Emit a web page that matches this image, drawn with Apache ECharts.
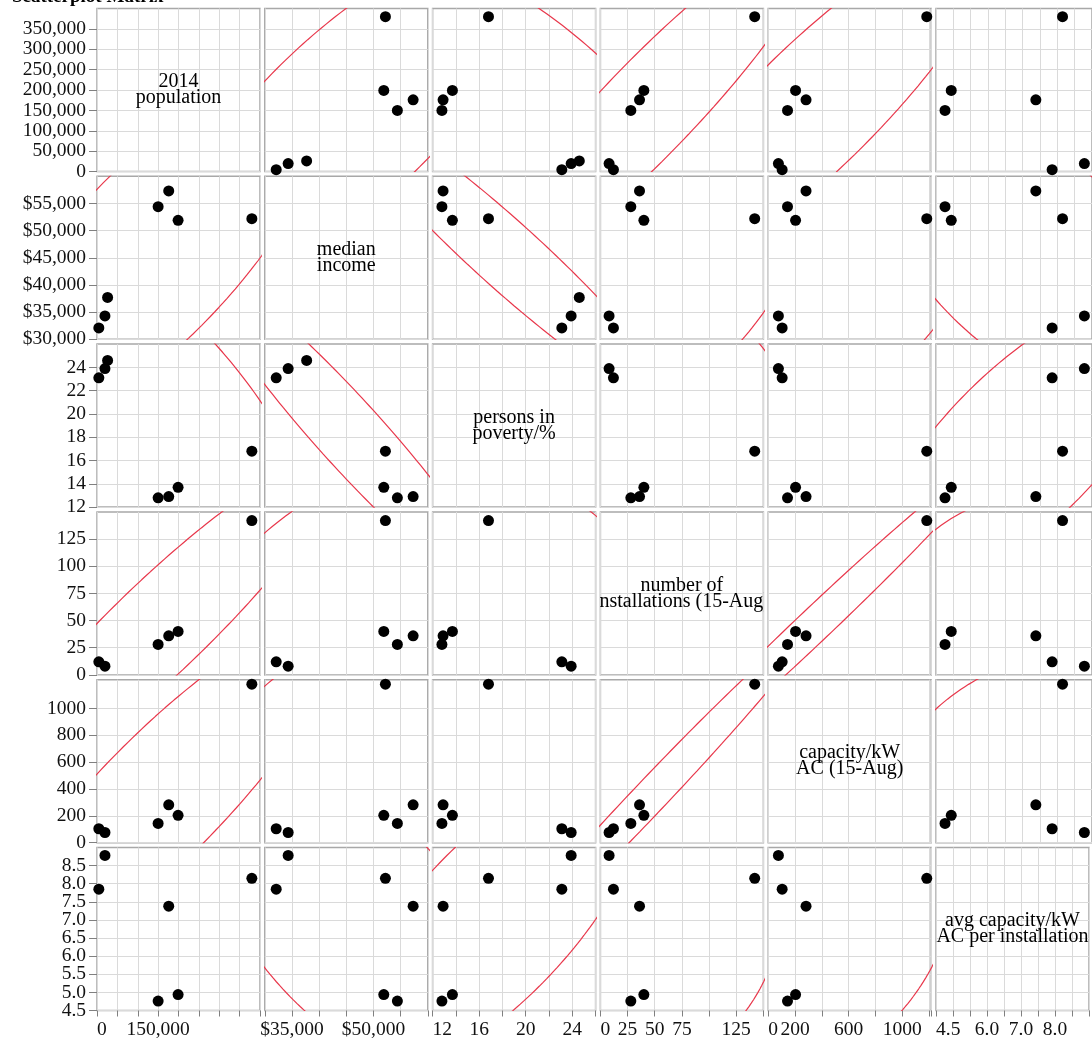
<!DOCTYPE html>
<html>
<head>
<meta charset="utf-8">
<script src="https://cdn.jsdelivr.net/npm/echarts@6/dist/echarts.min.js"></script>
<style>
  html, body { margin: 0; padding: 0; background: #fff; }
  #matrix { width: 1092px; height: 1045px; }
</style>
</head>
<body>
<div id="matrix"></div>
<script>
// values, one entry per place (null = not reported)
var population    = [4500, 19500, 26000, 380000, 199000, 150000, 176000];
var medianIncome  = [32100, 34300, 37700, 52200, 51900, 54400, 57300];
var povertyPct    = [23.1, 23.9, 24.6, 16.8, 13.7, 12.8, 12.9];
var installations = [12, 8, null, 142, 40, 28, 36];
var capacityKW    = [104, 76, null, 1182, 204, 144, 282];
var avgCapacity   = [7.85, 8.78, null, 8.15, 4.94, 4.76, 7.38];

var varNames = ['2014\npopulation', 'median\nincome', 'persons in\npoverty/%',
                'number of\ninstallations (15-Aug)', 'capacity/kW\nAC (15-Aug)',
                'avg capacity/kW\nAC per installation'];

// tick labels shown on the left (y) and bottom (x) axes
var popYLabels  = [0, 50000, 100000, 150000, 200000, 250000, 300000, 350000];
var popXLabels  = [0, 150000];
var incYLabels  = [30000, 35000, 40000, 45000, 50000, 55000];
var incXLabels  = [35000, 50000];
var povYLabels  = [12, 14, 16, 18, 20, 22, 24];
var povXLabels  = [12, 16, 20, 24];
var instYLabels = [0, 25, 50, 75, 100, 125];
var instXLabels = [0, 25, 50, 75, 125];
var capYLabels  = [0, 200, 400, 600, 800, 1000];
var capXLabels  = [0, 200, 600, 1000];
var avgYLabels  = [4.5, 5, 5.5, 6, 6.5, 7, 7.5, 8, 8.5];
var avgXLabels  = [4.5, 6, 7, 8];

function commas(v) { return Math.round(v).toLocaleString('en-US'); }
function whole(v) { return String(Math.round(v)); }

var vars = [
  {data: population,    min: 0,     max: 400000, interval: 50000, yl: popYLabels,  xl: popXLabels,  fmt: commas},
  {data: medianIncome,  min: 30000, max: 60000,  interval: 5000,  yl: incYLabels,  xl: incXLabels,  fmt: function (v) { return '$' + commas(v); }},
  {data: povertyPct,    min: 12,    max: 26,     interval: 2,     yl: povYLabels,  xl: povXLabels,  fmt: whole},
  {data: installations, min: 0,     max: 150,    interval: 25,    yl: instYLabels, xl: instXLabels, fmt: whole},
  {data: capacityKW,    min: 0,     max: 1215,   interval: 200,   yl: capYLabels,  xl: capXLabels,  fmt: whole},
  {data: avgCapacity,   min: 4.5,   max: 9.0,    interval: 0.5,   yl: avgYLabels,  xl: avgXLabels,  fmt: function (v) { return v.toFixed(1); }}
];

var LEFT = 97, TOP = 8.5, STEP = 167.8, SIZE = 163;
var FONT = "'Liberation Serif', 'Times New Roman', serif";

function pickFormatter(list, fmt) {
  return function (val) {
    for (var k = 0; k < list.length; k++) {
      if (Math.abs(val - list[k]) < 1e-6) return fmt(val);
    }
    return '';
  };
}

// ellipse size (squared radius) - tuned by eye against the reference
function ellipseSize(a, b) {
  if (a === 5 || b === 5) return 6.3;                            // avg capacity pairs
  if ((a === 1 && b === 2) || (a === 2 && b === 1)) return 6.6;  // income vs poverty
  return 10;
}

// density ellipse from the paired values (mean + covariance)
function ellipse(xs, ys, c2) {
  var px = [], py = [];
  for (var k = 0; k < xs.length; k++) {
    if (xs[k] != null && ys[k] != null) { px.push(xs[k]); py.push(ys[k]); }
  }
  var n = px.length, mx = 0, my = 0;
  px.forEach(function (v) { mx += v; }); py.forEach(function (v) { my += v; });
  mx /= n; my /= n;
  var sxx = 0, syy = 0, sxy = 0;
  for (k = 0; k < n; k++) {
    sxx += (px[k] - mx) * (px[k] - mx);
    syy += (py[k] - my) * (py[k] - my);
    sxy += (px[k] - mx) * (py[k] - my);
  }
  sxx /= (n - 1); syy /= (n - 1); sxy /= (n - 1);
  var c = Math.sqrt(c2);
  var l11 = Math.sqrt(sxx), l21 = sxy / l11, l22 = Math.sqrt(Math.max(syy - l21 * l21, 0));
  var pts = [];
  for (k = 0; k <= 240; k++) {
    var t = 2 * Math.PI * k / 240, a = Math.cos(t), b = Math.sin(t);
    pts.push([mx + c * l11 * a, my + c * (l21 * a + l22 * b)]);
  }
  return pts;
}

var grids = [], xAxes = [], yAxes = [], series = [];
var labelStyle = {color: '#111', fontFamily: FONT, fontSize: 19.5};

for (var i = 0; i < 6; i++) {
  for (var j = 0; j < 6; j++) {
    var idx = i * 6 + j, vx = vars[j], vy = vars[i];
    grids.push({
      left: LEFT + j * STEP, top: TOP + i * STEP, width: SIZE, height: SIZE,
      show: true, borderColor: '#a8a8a8', borderWidth: 1.5, backgroundColor: '#fff'
    });
    xAxes.push({
      gridIndex: idx, type: 'value', min: vx.min, max: vx.max, interval: vx.interval,
      axisLine: {show: false},
      axisTick: {show: i === 5, length: 6, lineStyle: {color: '#808080'}},
      axisLabel: Object.assign({show: i === 5, margin: 9, showMinLabel: true, showMaxLabel: true,
                  alignMinLabel: 'left', formatter: pickFormatter(vx.xl, vx.fmt)}, labelStyle),
      splitLine: {show: true, lineStyle: {color: '#dadada', width: 1}}
    });
    // the bottom-left avg axis is packed tight; its first label is drawn by an extra axis below
    var tight = (i === 5 && j === 0);
    yAxes.push({
      gridIndex: idx, type: 'value', min: vy.min, max: vy.max, interval: vy.interval,
      axisLine: {show: false},
      axisTick: {show: j === 0, length: 8, lineStyle: {color: '#808080'}, customValues: vy.yl},
      axisLabel: Object.assign({show: j === 0, margin: 11, showMinLabel: tight ? false : true,
                  showMaxLabel: true, formatter: pickFormatter(vy.yl, vy.fmt)}, labelStyle),
      splitLine: {show: true, lineStyle: {color: '#dadada', width: 1}}
    });

    if (i === j) {
      series.push({
        type: 'custom', xAxisIndex: idx, yAxisIndex: idx, clip: true, silent: true,
        data: [[(vx.min + vx.max) / 2, (vy.min + vy.max) / 2]],
        renderItem: (function (name) {
          return function (params, api) {
            var p = api.coord([api.value(0), api.value(1)]);
            return {
              type: 'text', x: p[0], y: p[1],
              style: {text: name, fill: '#000', font: '20px ' + FONT,
                      align: 'center', verticalAlign: 'middle', lineHeight: 16}
            };
          };
        })(varNames[i])
      });
      continue;
    }

    var pts = [];
    for (var k = 0; k < vx.data.length; k++) {
      if (vx.data[k] != null && vy.data[k] != null) pts.push([vx.data[k], vy.data[k]]);
    }
    series.push({
      type: 'line', xAxisIndex: idx, yAxisIndex: idx,
      data: ellipse(vx.data, vy.data, ellipseSize(i, j)),
      showSymbol: false, clip: true, silent: true,
      lineStyle: {color: '#e8374b', width: 1.2}
    });
    series.push({
      type: 'scatter', xAxisIndex: idx, yAxisIndex: idx, data: pts,
      symbolSize: 11, itemStyle: {color: '#000', opacity: 1}, silent: true
    });
  }
}

// extra left axis on the bottom-left cell carrying only the lowest avg label
var avg = vars[5];
yAxes.push({
  gridIndex: 30, type: 'value', position: 'left', min: avg.min, max: avg.max, interval: avg.interval,
  axisLine: {show: false}, splitLine: {show: false},
  axisTick: {show: true, length: 8, lineStyle: {color: '#808080'}, customValues: [avg.yl[0]]},
  axisLabel: Object.assign({show: true, margin: 11, showMinLabel: true, showMaxLabel: false,
              formatter: pickFormatter([avg.yl[0]], avg.fmt)}, labelStyle)
});

var chart = echarts.init(document.getElementById('matrix'), null, {renderer: 'canvas'});
chart.setOption({
  animation: false,
  backgroundColor: '#fff',
  graphic: [{
    type: 'text', left: 12, top: -12.5,
    style: {text: 'Scatterplot Matrix', font: 'bold 19px ' + FONT, fill: '#000'}
  }],
  grid: grids,
  xAxis: xAxes,
  yAxis: yAxes,
  series: series
});
</script>
</body>
</html>
